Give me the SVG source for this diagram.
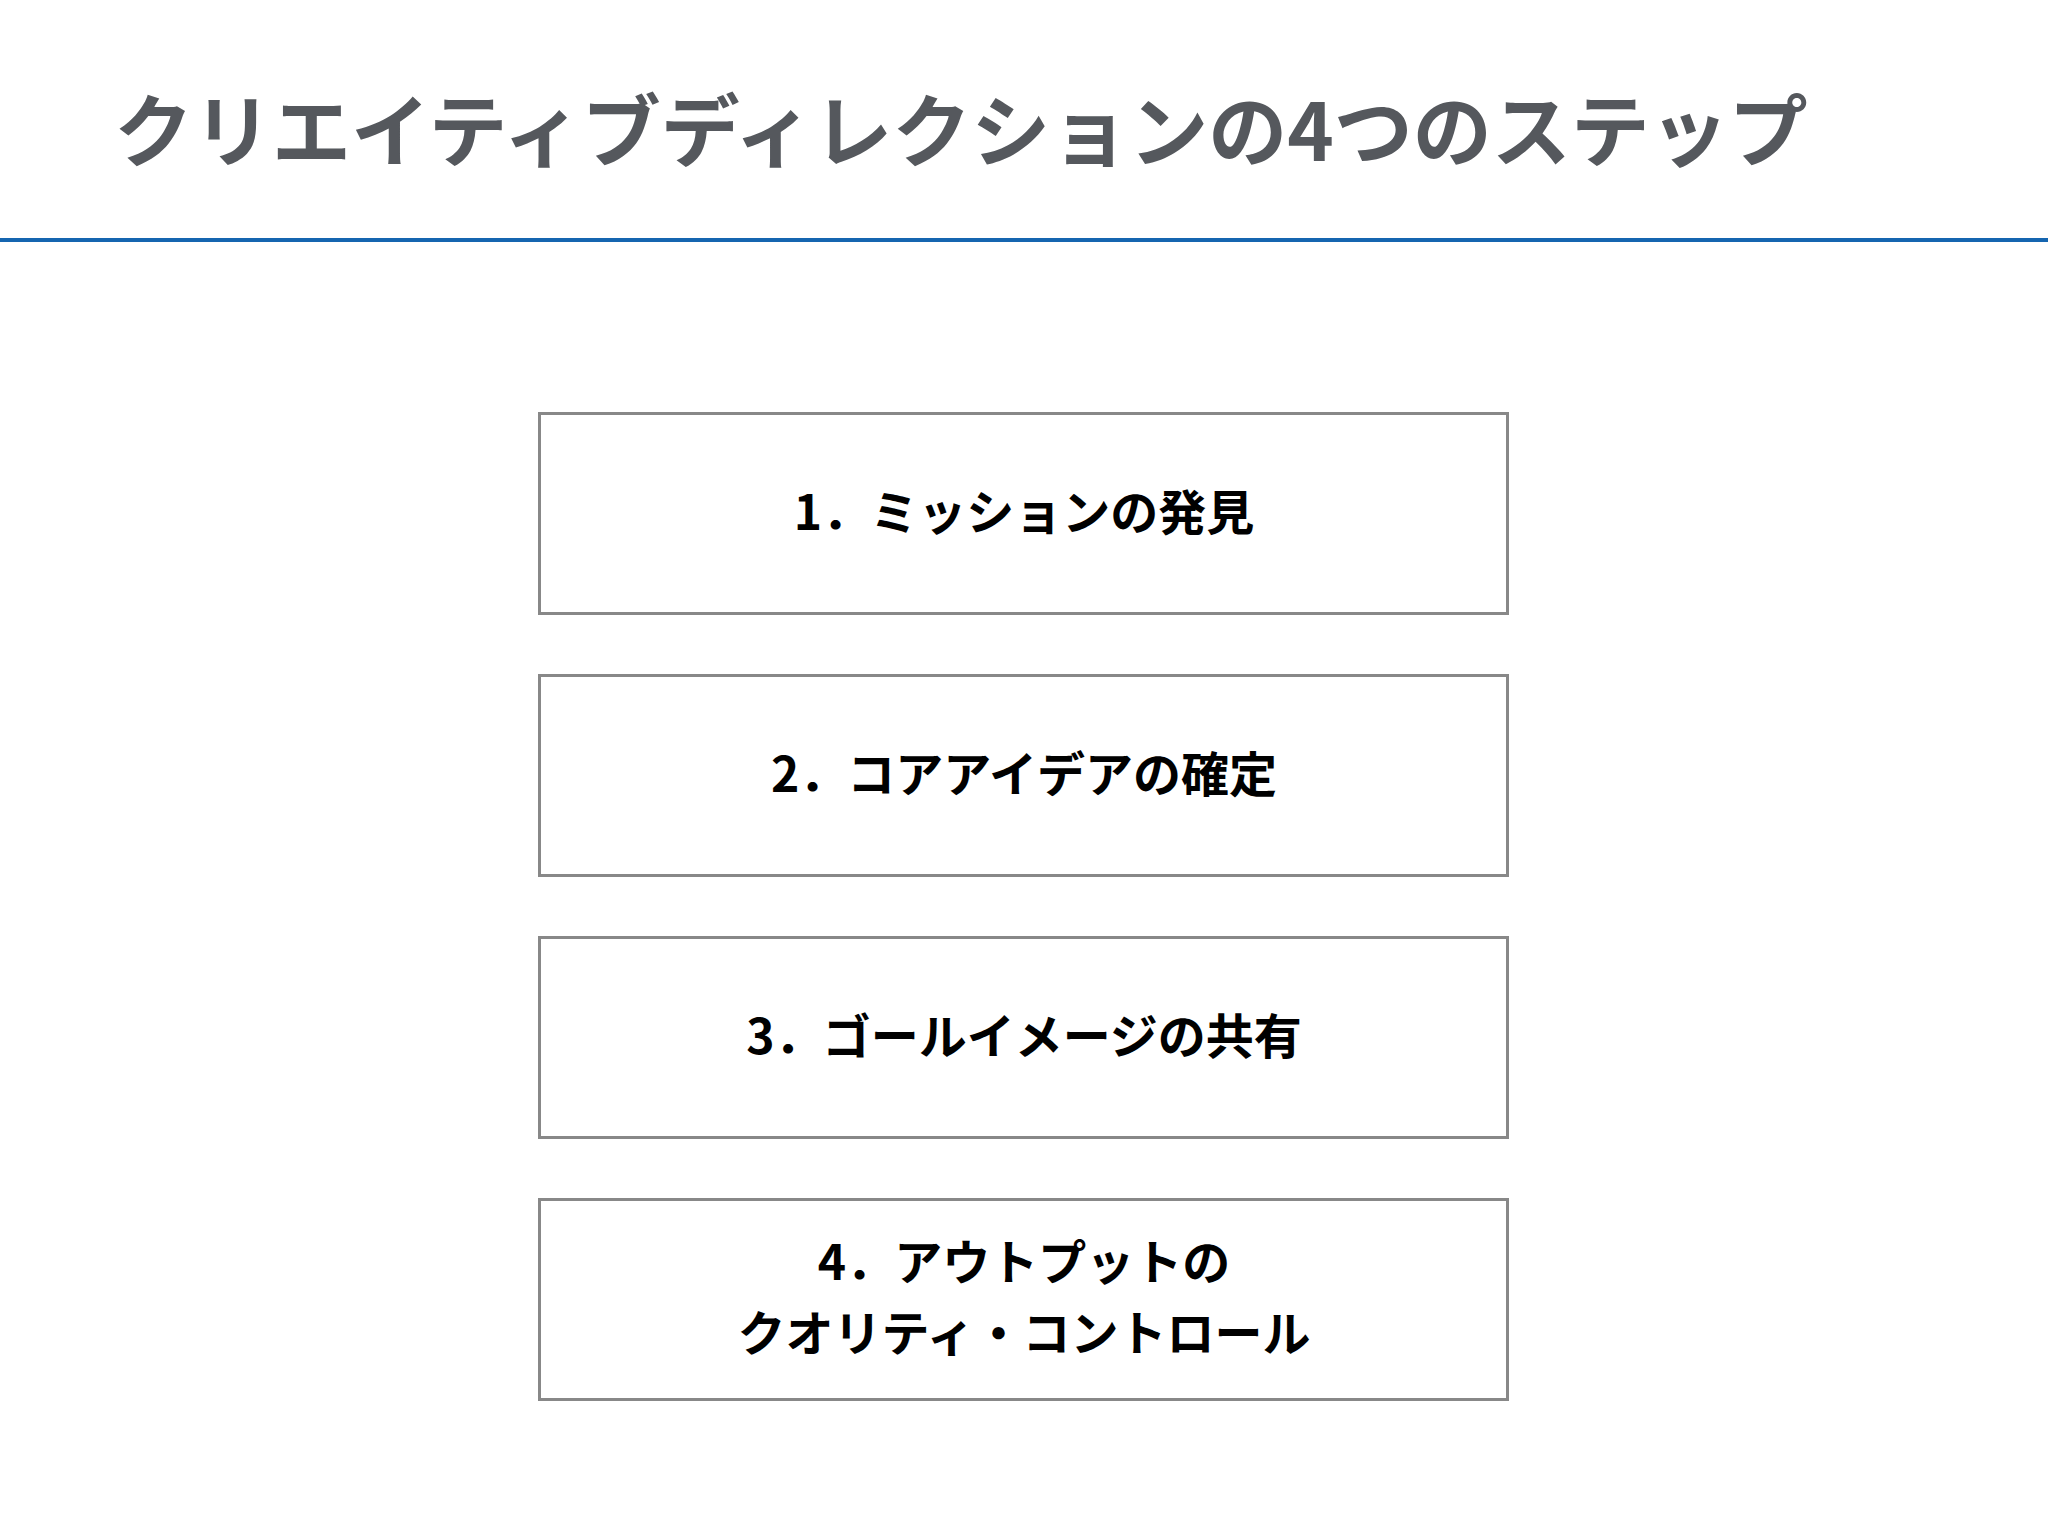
<svg xmlns="http://www.w3.org/2000/svg" width="2048" height="1536" viewBox="0 0 2048 1536">
<style>
.title{font-family:"Noto Sans CJK JP","Noto Sans",sans-serif;font-weight:700;font-size:79px;fill:#55585d}
.box{fill:#ffffff;stroke:#888888;stroke-width:3}
.lbl{font-family:"Noto Sans CJK JP","Noto Sans",sans-serif;font-weight:700;font-size:48px;fill:#000000;text-anchor:middle}
</style>
<rect x="0" y="0" width="2048" height="1536" fill="#ffffff"/>
<text class="title" x="114" y="161">クリエイティブディレクションの4つのステップ</text>
<rect x="0" y="238" width="2048" height="4" fill="#1565b0"/>
<g id="step1">
<rect class="box" x="539.5" y="413.5" width="968" height="200"/>
<text class="lbl" x="1024" y="530">1．ミッションの発見</text>
</g>
<g id="step2">
<rect class="box" x="539.5" y="675.5" width="968" height="200"/>
<text class="lbl" x="1024" y="792">2．コアアイデアの確定</text>
</g>
<g id="step3">
<rect class="box" x="539.5" y="937.5" width="968" height="200"/>
<text class="lbl" x="1024" y="1054">3．ゴールイメージの共有</text>
</g>
<g id="step4">
<rect class="box" x="539.5" y="1199.5" width="968" height="200"/>
<text class="lbl" x="1024" y="1280">4．アウトプットの</text>
<text class="lbl" x="1024" y="1351">クオリティ・コントロール</text>
</g>
<g id="connectors"></g>
</svg>
